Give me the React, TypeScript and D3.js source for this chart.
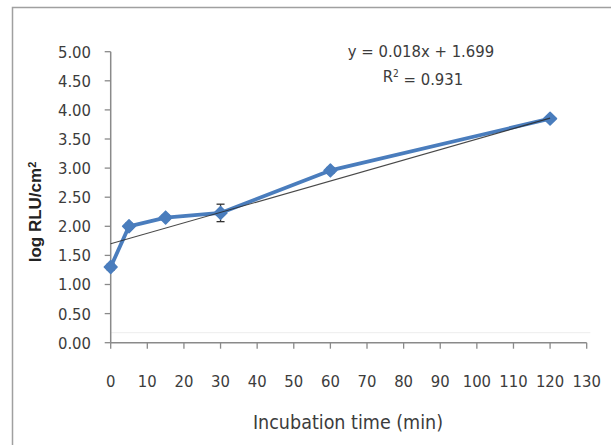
import React from "react";
import * as d3 from "d3";

// Incubation time (min) and mean log RLU/cm² with standard deviation
const times = [0, 5, 15, 30, 60, 120];
const logRlu = [1.3, 2.0, 2.15, 2.23, 2.96, 3.85];
const errors = [0.05, 0.05, 0.04, 0.15, 0.05, 0.04];

// Linear trendline y = slope·x + intercept
const slope = 0.018;
const intercept = 1.699;
const rSquared = 0.931;
const trendRange = [0, 120];

const xTicks = d3.range(0, 131, 10);
const yTicks = d3.range(0, 5.01, 0.5);

const W = 611;
const H = 445;
const tickFont = "'DejaVu Sans Condensed', 'Liberation Sans Narrow', sans-serif";

export default function App() {
  const x = d3.scaleLinear().domain([0, 130]).range([110.7, 586.7]);
  const y = d3.scaleLinear().domain([0, 5]).range([342.7, 51.7]);

  const line = d3
    .line<number>()
    .x((_, i) => x(times[i]))
    .y((d) => y(d));

  const trend = trendRange.map((t) => [x(t), y(slope * t + intercept)] as [number, number]);
  // square marker turned 45° gives an even diamond
  const diamond = d3.symbol().type(d3.symbolSquare).size(82)();

  const blue = "#4a7dbd";
  const axisColor = "#8a8a8a";
  const textColor = "#3c3c3c";

  return (
    <svg
      width={W}
      height={H}
      viewBox={`0 0 ${W} ${H}`}
      style={{ position: "absolute", left: 0, top: 0, background: "#fff" }}
    >
      <rect x={0} y={0} width={W} height={H} fill="#fff" />
      {/* chart frame */}
      <rect x={12.5} y={7.5} width={W + 20} height={H + 20} fill="none" stroke="#a0a0a0" strokeWidth={1.5} />

      {/* faint baseline guide */}
      <line x1={x(0)} x2={x(131)} y1={332.7} y2={332.7} stroke="#ededed" strokeWidth={1} />

      {/* y axis */}
      <line x1={x(0)} x2={x(0)} y1={y(5)} y2={y(0)} stroke={axisColor} strokeWidth={1.5} />
      {yTicks.map((t) => (
        <g key={`y${t}`}>
          <line x1={x(0) - 6} x2={x(0)} y1={y(t)} y2={y(t)} stroke={axisColor} strokeWidth={1.3} />
          <text
            x={91}
            y={y(t)}
            dy="0.36em"
            textAnchor="end"
            fontFamily={tickFont}
            fontSize={16.5}
            fill={textColor}
          >
            {t.toFixed(2)}
          </text>
        </g>
      ))}

      {/* x axis */}
      <line x1={x(0)} x2={x(130)} y1={y(0)} y2={y(0)} stroke={axisColor} strokeWidth={1.5} />
      {xTicks.map((t) => (
        <g key={`x${t}`}>
          <line x1={x(t)} x2={x(t)} y1={y(0)} y2={y(0) + 6} stroke={axisColor} strokeWidth={1.3} />
          <text
            x={x(t)}
            y={381}
            dy="0.36em"
            textAnchor="middle"
            fontFamily={tickFont}
            fontSize={16.5}
            fill={textColor}
          >
            {t}
          </text>
        </g>
      ))}

      {/* axis titles */}
      <text
        x={348}
        y={422}
        dy="0.36em"
        textAnchor="middle"
        fontFamily={tickFont}
        fontSize={19.5}
        fill={textColor}
      >
        Incubation time (min)
      </text>
      <text
        transform={`translate(35,212) rotate(-90)`}
        dy="0.36em"
        textAnchor="middle"
        fontFamily="'Liberation Sans', Arial, sans-serif"
        fontWeight="bold"
        fontSize={17}
        fill="#222"
      >
        log RLU/cm
        <tspan dy="-0.5em" fontSize={11}>2</tspan>
      </text>

      {/* data series */}
      <path d={line(logRlu) ?? ""} fill="none" stroke={blue} strokeWidth={3.8} strokeLinejoin="round" />

      {/* error bars */}
      {times.map((t, i) => (
        <g key={`e${t}`} stroke="#333" strokeWidth={1.3}>
          <line x1={x(t)} x2={x(t)} y1={y(logRlu[i] - errors[i])} y2={y(logRlu[i] + errors[i])} />
          <line x1={x(t) - 4} x2={x(t) + 4} y1={y(logRlu[i] - errors[i])} y2={y(logRlu[i] - errors[i])} />
          <line x1={x(t) - 4} x2={x(t) + 4} y1={y(logRlu[i] + errors[i])} y2={y(logRlu[i] + errors[i])} />
        </g>
      ))}

      {/* markers */}
      {times.map((t, i) => (
        <path
          key={`m${t}`}
          d={diamond ?? ""}
          transform={`translate(${x(t)},${y(logRlu[i])}) rotate(45)`}
          fill={blue}
          stroke={blue}
          strokeWidth={1.5}
          strokeLinejoin="round"
        />
      ))}

      {/* linear trendline */}
      <line
        x1={trend[0][0]}
        y1={trend[0][1]}
        x2={trend[1][0]}
        y2={trend[1][1]}
        stroke="#2a2a2a"
        strokeWidth={1.1}
        opacity={0.85}
      />

      {/* trendline equation */}
      <text x={421} y={51} dy="0.36em" textAnchor="middle" fontFamily={tickFont} fontSize={16.5} fill={textColor}>
        {`y = ${slope.toFixed(3)}x + ${intercept.toFixed(3)}`}
      </text>
      <text x={423} y={76} dy="0.36em" textAnchor="middle" fontFamily={tickFont} fontSize={16.5} fill={textColor}>
        R<tspan dy="-0.45em" fontSize={10}>2</tspan>
        <tspan dy="0.45em">{` = ${rSquared.toFixed(3)}`}</tspan>
      </text>
    </svg>
  );
}
